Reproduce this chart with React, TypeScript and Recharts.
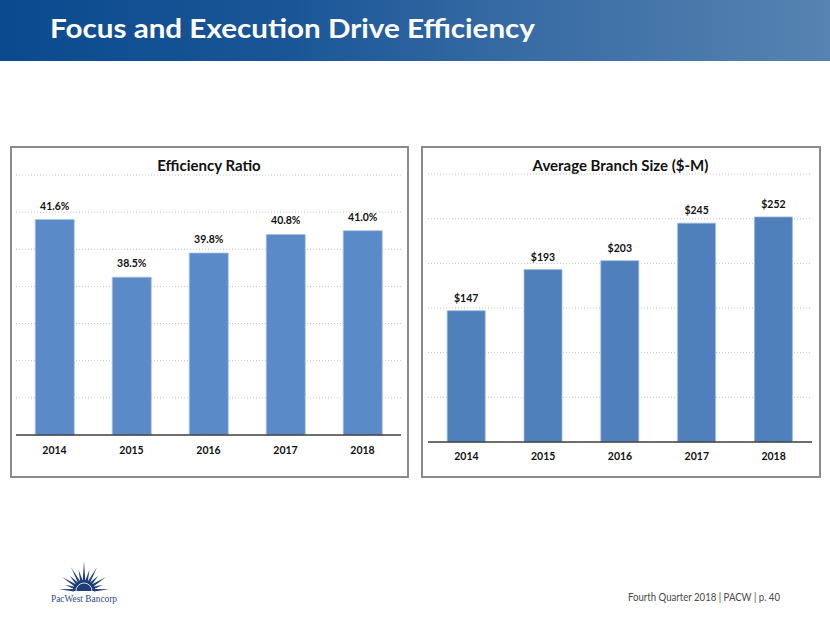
import React from "react";
import { BarChart, Bar, XAxis, YAxis, CartesianGrid, LabelList } from "recharts";

const years = ["2014", "2015", "2016", "2017", "2018"];
const efficiencyRatio = [41.6, 38.5, 39.8, 40.8, 41.0];
const branchSize = [147, 193, 203, 245, 252];
const efficiencyTicks = [30, 32, 34, 36, 38, 40, 42, 44];
const branchTicks = [0, 50, 100, 150, 200, 250, 300];

const effData = years.map((y, i) => ({ year: y, value: efficiencyRatio[i] }));
const branchData = years.map((y, i) => ({ year: y, value: branchSize[i] }));

const FONT = "Lato, 'Noto Sans', sans-serif";

const rayLengths = [25, 20, 26, 21, 27, 22, 30, 22, 27, 21, 26, 20, 25];

function Logo() {
  const cx = 84;
  const cy = 591;
  return (
    <svg width={830} height={623} style={{ position: "absolute", left: 0, top: 0 }}>
      {rayLengths.map((len, i) => {
        const ang = (Math.PI * (4 + i * 14.33)) / 180;
        const r0 = 10;
        const w = 0.13;
        const p1 = [cx + r0 * Math.cos(ang - w), cy - r0 * Math.sin(ang - w)];
        const p2 = [cx + r0 * Math.cos(ang + w), cy - r0 * Math.sin(ang + w)];
        const tip = [cx + len * Math.cos(ang), cy - len * Math.sin(ang)];
        return (
          <polygon
            key={i}
            points={`${p1[0]},${p1[1]} ${tip[0]},${tip[1]} ${p2[0]},${p2[1]}`}
            fill="#1f3d78"
          />
        );
      })}
      <path d={`M ${cx - 11} ${cy} A 11 11 0 0 1 ${cx + 11} ${cy} Z`} fill="#1f3d78" />
      <path d={`M ${cx - 8} ${cy} A 8 8 0 0 1 ${cx + 8} ${cy}`} fill="none" stroke="#ffffff" strokeWidth={0.8} />
      <text
        x={51}
        y={602}
        fontFamily="'Liberation Serif', 'DejaVu Serif', serif"
        fontSize={10.5}
        fill="#2b4c86"
        textLength={66}
        lengthAdjust="spacingAndGlyphs"
      >
        PacWest Bancorp
      </text>
      <text
        x={628}
        y={601}
        fontFamily={FONT}
        fontSize={11}
        fill="#4a4a4a"
        textLength={152}
        lengthAdjust="spacingAndGlyphs"
      >
        Fourth Quarter 2018 | PACW | p. 40
      </text>
    </svg>
  );
}

export default function App() {
  return (
    <div
      style={{
        position: "absolute",
        left: 0,
        top: 0,
        width: 830,
        height: 623,
        background: "#ffffff",
        overflow: "hidden",
        fontFamily: FONT,
      }}
    >
      <div
        style={{
          position: "absolute",
          left: 0,
          top: 0,
          width: 830,
          height: 61,
          background: "linear-gradient(90deg, #0b4a8f 0%, #1a5697 35%, #3a6da5 65%, #5683b1 100%)",
        }}
      />
      <svg width={830} height={61} style={{ position: "absolute", left: 0, top: 0 }}>
        <text
          x={50}
          y={38}
          fontFamily={FONT}
          fontWeight={700}
          fontSize={26}
          fill="#ffffff"
          textLength={485}
          lengthAdjust="spacingAndGlyphs"
        >
          Focus and Execution Drive Efficiency
        </text>
      </svg>

      {/* Left panel */}
      <div
        style={{
          position: "absolute",
          left: 10,
          top: 146,
          width: 395,
          height: 328,
          border: "2px solid #8a8a8a",
        }}
      />
      <div
        style={{
          position: "absolute",
          left: 11,
          top: 156,
          width: 396,
          textAlign: "center",
          fontSize: 15,
          fontWeight: 700,
          color: "#111",
        }}
      >
        Efficiency Ratio
      </div>
      <div style={{ position: "absolute", left: 11, top: 147 }}>
        <BarChart
          width={396}
          height={329}
          data={effData}
          margin={{ top: 28, right: 6, bottom: 11, left: 5 }}
          barCategoryGap="25%"
        >
          <CartesianGrid horizontal vertical={false} stroke="#c4c4c4" strokeDasharray="1 2" />
          <YAxis hide domain={[30, 44]} ticks={efficiencyTicks} />
          <XAxis
            dataKey="year"
            height={30}
            tickSize={0}
            tickMargin={12}
            tickLine={false}
            axisLine={{ stroke: "#404040", strokeWidth: 1.5 }}
            tick={{ fill: "#111", fontSize: 10.5, fontWeight: 700, fontFamily: FONT }}
          />
          <Bar dataKey="value" fill="#5a8ac8" stroke="#a7c2e4" strokeWidth={0.8} isAnimationActive={false}>
            <LabelList
              dataKey="value"
              position="top"
              offset={10}
              formatter={(v: number) => `${v.toFixed(1)}%`}
              style={{ fill: "#111", fontSize: 10.5, fontWeight: 700, fontFamily: FONT }}
            />
          </Bar>
        </BarChart>
      </div>

      {/* Right panel */}
      <div
        style={{
          position: "absolute",
          left: 421,
          top: 146,
          width: 396,
          height: 328,
          border: "2px solid #8a8a8a",
        }}
      />
      <div
        style={{
          position: "absolute",
          left: 422,
          top: 156,
          width: 397,
          textAlign: "center",
          fontSize: 15,
          fontWeight: 700,
          color: "#111",
        }}
      >
        Average Branch Size ($-M)
      </div>
      <div style={{ position: "absolute", left: 422, top: 147 }}>
        <BarChart
          width={397}
          height={329}
          data={branchData}
          margin={{ top: 27, right: 7, bottom: 9, left: 6 }}
          barCategoryGap="25%"
        >
          <CartesianGrid horizontal vertical={false} stroke="#c4c4c4" strokeDasharray="1 2" />
          <YAxis hide domain={[0, 300]} ticks={branchTicks} />
          <XAxis
            dataKey="year"
            height={25}
            tickSize={0}
            tickMargin={11}
            tickLine={false}
            axisLine={{ stroke: "#404040", strokeWidth: 1.5 }}
            tick={{ fill: "#111", fontSize: 10.5, fontWeight: 700, fontFamily: FONT }}
          />
          <Bar dataKey="value" fill="#4f80bc" stroke="#9fbbe0" strokeWidth={0.8} isAnimationActive={false}>
            <LabelList
              dataKey="value"
              position="top"
              offset={9}
              formatter={(v: number) => `$${v}`}
              style={{ fill: "#111", fontSize: 10.5, fontWeight: 700, fontFamily: FONT }}
            />
          </Bar>
        </BarChart>
      </div>

      <Logo />
    </div>
  );
}
